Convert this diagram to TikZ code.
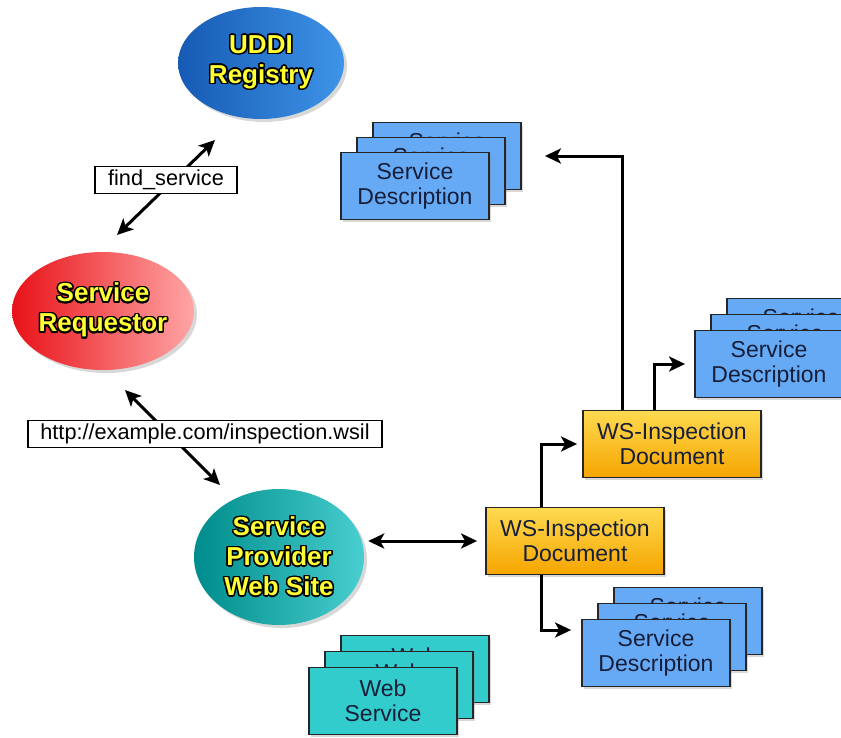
\documentclass[tikz,border=0pt]{standalone}
\usepackage{fontspec}
\setmainfont{Liberation Sans}
\usepackage[copies]{contour}
\contourlength{1.5pt}
\usetikzlibrary{shapes.geometric,arrows.meta,shadows,calc}

\definecolor{hubYellow}{RGB}{255,255,51}
\definecolor{boxText}{RGB}{22,30,58}
\definecolor{descBlue}{RGB}{102,170,245}
\definecolor{wsTeal}{RGB}{51,204,204}
\newcommand{\yl}[1]{\contour{black}{#1}}

\begin{document}
\begin{tikzpicture}[
    x=1pt, y=-1pt,
    hub/.style={ellipse, inner sep=0pt, align=center, text=hubYellow,
        font=\fontsize{26}{30}\selectfont\bfseries,
        drop shadow={opacity=0.3, shadow xshift=3pt, shadow yshift=-3pt}},
    card/.style={draw=black!85, line width=1.8pt, align=center, text=boxText,
        minimum width=148pt, minimum height=67pt, inner sep=0pt,
        font=\fontsize{23}{25}\selectfont,
        drop shadow={opacity=0.3, shadow xshift=2pt, shadow yshift=-2pt}},
    descbox/.style={card, fill=descBlue},
    wsbox/.style={card, fill=wsTeal},
    docbox/.style={card, minimum width=178pt, top color={rgb,255:red,255;green,218;blue,80},
        bottom color={rgb,255:red,245;green,165;blue,0}},
    lbl/.style={draw=black, fill=white, line width=1.2pt, inner sep=2pt,
        minimum height=27pt, font=\fontsize{21.7}{26}\selectfont},
    arr/.style={-{Stealth[length=16pt,width=15pt,inset=4pt]}, line width=3pt},
    dbl/.style={{Stealth[length=16pt,width=15pt,inset=4pt]}-{Stealth[length=16pt,width=15pt,inset=4pt]}, line width=3pt}
]
    \path[use as bounding box, fill=white] (0,0) rectangle (841,737);

    % the three actors
    \node[hub, minimum width=166pt, minimum height=112pt,
        left color={rgb,255:red,22;green,90;blue,180}, right color={rgb,255:red,62;green,148;blue,232}]
        (uddi) at (261,63) {\yl{UDDI}\\\yl{Registry}};
    \node[hub, minimum width=168pt, minimum height=118pt,
        left color={rgb,255:red,232;green,18;blue,24}, right color={rgb,255:red,255;green,165;blue,165}]
        (req) at (103,311) {\yl{Service}\\\yl{Requestor}};
    \node[hub, minimum width=170pt, minimum height=136pt,
        left color={rgb,255:red,0;green,140;blue,140}, right color={rgb,255:red,72;green,206;blue,206}]
        (prov) at (279,557) {\yl{Service}\\\yl{Provider}\\\yl{Web Site}};

    % lookups
    \coordinate (find-a) at (117,235);
    \coordinate (find-b) at (215,140);
    \draw[dbl] (find-a) -- (find-b);
    \node[lbl, minimum width=142pt] (find) at (166,180) {find\_service};

    \coordinate (insp-a) at (125,390);
    \coordinate (insp-b) at (220,485);
    \draw[dbl] (insp-a) -- (insp-b);
    \node[lbl, minimum width=354pt] (insp) at (205,434) {http://example.com/inspection.wsil};

    % inspection documents
    \node[docbox] (doc1) at (575,541) {WS-Inspection\\Document};
    \node[docbox] (doc2) at (672,444) {WS-Inspection\\Document};

    % stacks of descriptions and services
    \foreach \i in {2,1} {
        \node[descbox] (descA\i) at (415+16*\i,186-15*\i) {Service\\Description};
        \node[descbox] (descB\i) at (769+16*\i,364-16*\i) {Service\\Description};
        \node[descbox] (descC\i) at (656+16*\i,653-16*\i) {Service\\Description};
        \node[wsbox] (web\i) at (383+16*\i,701-16*\i) {Web\\Service};
    }
    \node[descbox] (descA) at (415,186) {Service\\Description};
    \node[descbox] (descB) at (769,364) {Service\\Description};
    \node[descbox] (descC) at (656,653) {Service\\Description};
    \node[wsbox] (web) at (383,701) {Web\\Service};

    % links
    \draw[dbl, shorten <=4pt, shorten >=8pt] (prov.east |- doc1.west) -- (doc1.west);
    \draw[arr] ([xshift=-34pt]doc1.north) |- ([xshift=-5pt]doc2.west);
    \draw[arr] ([xshift=-34pt]doc1.south) |- ([shift={(-10pt,23pt)}]descC.west);
    \draw[arr] ([xshift=-50pt]doc2.north) |- ([xshift=23pt]descA2.east);
    \draw[arr] ([xshift=-18pt]doc2.north) |- ([xshift=-9pt]descB.west);
\end{tikzpicture}
\end{document}
